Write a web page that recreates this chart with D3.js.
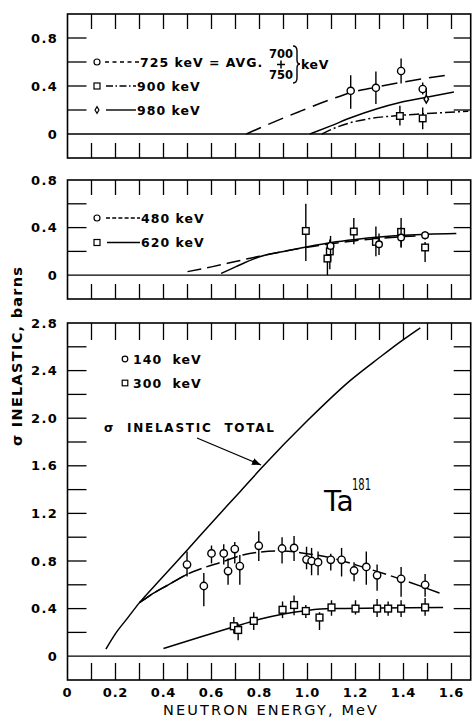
<!DOCTYPE html>
<html>
<head>
<meta charset="utf-8">
<script src="https://cdn.jsdelivr.net/npm/d3@7"></script>
<style>
  body { margin: 0; background: #fff; }
  svg { display: block; font-family: "DejaVu Sans", "Liberation Sans", sans-serif; }
</style>
</head>
<body>
<svg id="chart" width="472" height="718"></svg>
<script>
// Ta181 inelastic cross sections vs neutron energy

// shared x axis
const xTicks = [0.1, 0.2, 0.3, 0.4, 0.5, 0.6, 0.7, 0.8, 0.9, 1.0, 1.1, 1.2, 1.3, 1.4, 1.5, 1.6];
const xTickLabels = ["0", "0.2", "0.4", "0.6", "0.8", "1.0", "1.2", "1.4", "1.6"];
const xLabelValues = [0, 0.2, 0.4, 0.6, 0.8, 1.0, 1.2, 1.4, 1.6];

// top panel: [E, sigma, errLow, errHigh]
const pts725 = [[1.18, 0.36, 0.21, 0.49], [1.285, 0.385, 0.25, 0.52], [1.39, 0.525, 0.42, 0.63], [1.48, 0.375, 0.33, 0.43]];
const pts900 = [[1.385, 0.15, 0.07, 0.235], [1.48, 0.13, 0.04, 0.22]];
const pts980 = [[1.495, 0.29, 0.28, 0.38]];
const curve725 = [[0.745, 0], [0.83, 0.075], [0.97, 0.19], [1.1, 0.29], [1.18, 0.345], [1.285, 0.39], [1.39, 0.43], [1.48, 0.46], [1.58, 0.49]];
const curve900 = [[1.06, 0], [1.12, 0.055], [1.18, 0.095], [1.25, 0.125], [1.385, 0.155], [1.48, 0.168], [1.67, 0.19]];
const curve980 = [[1.01, 0], [1.1, 0.07], [1.18, 0.135], [1.29, 0.21], [1.385, 0.262], [1.48, 0.30], [1.61, 0.35]];

// middle panel
const pts480 = [[1.096, 0.246, 0.12, 0.33], [1.298, 0.26, 0.17, 0.35], [1.39, 0.317, 0.24, 0.40], [1.49, 0.336, 0.30, 0.37]];
const pts620 = [[0.993, 0.372, 0.12, 0.60], [1.083, 0.14, 0.0, 0.25], [1.093, 0.20, 0.05, 0.30], [1.193, 0.367, 0.26, 0.48],
                [1.285, 0.28, 0.16, 0.41], [1.39, 0.364, 0.23, 0.48], [1.49, 0.233, 0.11, 0.28]];
const curve480 = [[0.50, 0.03], [0.6, 0.07], [0.7, 0.115], [0.8, 0.16], [0.9, 0.2], [1.0, 0.235], [1.1, 0.265], [1.2, 0.29], [1.3, 0.31], [1.45, 0.33]];
const curve620 = [[0.64, 0.015], [0.7, 0.07], [0.8, 0.155], [0.9, 0.2], [1.0, 0.24], [1.1, 0.275], [1.2, 0.3], [1.3, 0.32], [1.4, 0.335], [1.5, 0.345], [1.62, 0.35]];

// bottom panel
const pts140 = [[0.498, 0.77, 0.67, 0.88], [0.568, 0.59, 0.42, 0.70], [0.60, 0.864, 0.78, 0.93], [0.651, 0.864, 0.77, 0.94],
                [0.669, 0.715, 0.60, 0.82], [0.697, 0.90, 0.78, 0.96], [0.718, 0.757, 0.60, 0.85], [0.797, 0.928, 0.80, 1.05],
                [0.894, 0.905, 0.78, 1.0], [0.944, 0.91, 0.80, 1.01], [0.996, 0.812, 0.73, 0.92], [1.017, 0.80, 0.68, 0.91],
                [1.044, 0.79, 0.68, 0.88], [1.097, 0.81, 0.72, 0.86], [1.142, 0.81, 0.67, 0.91], [1.194, 0.72, 0.63, 0.79],
                [1.245, 0.75, 0.60, 0.88], [1.29, 0.68, 0.55, 0.77], [1.39, 0.65, 0.50, 0.75], [1.49, 0.60, 0.50, 0.69]];
const pts300 = [[0.693, 0.252, 0.19, 0.33], [0.711, 0.22, 0.135, 0.275], [0.776, 0.297, 0.22, 0.37], [0.896, 0.39, 0.32, 0.46],
                [0.944, 0.43, 0.345, 0.51], [0.993, 0.38, 0.32, 0.43], [1.05, 0.325, 0.22, 0.37], [1.10, 0.41, 0.34, 0.47],
                [1.20, 0.40, 0.35, 0.47], [1.29, 0.40, 0.33, 0.48], [1.336, 0.40, 0.34, 0.46], [1.39, 0.40, 0.33, 0.47], [1.49, 0.41, 0.34, 0.49]];
const curveTotal = [[0.16, 0.06], [0.2, 0.19], [0.25, 0.32], [0.3, 0.45], [0.385, 0.64], [0.5, 0.895], [0.6, 1.12], [0.72, 1.385],
                    [0.81, 1.585], [1.0, 1.98], [1.18, 2.32], [1.30, 2.51], [1.385, 2.64], [1.47, 2.76]];
const curve140 = [[0.30, 0.45], [0.343, 0.51], [0.42, 0.60], [0.5, 0.69], [0.57, 0.745], [0.64, 0.79], [0.73, 0.85], [0.8, 0.875],
                  [0.9, 0.885], [0.97, 0.87], [1.1, 0.825], [1.245, 0.74], [1.385, 0.65], [1.55, 0.53]];
const curve300 = [[0.40, 0.065], [0.55, 0.16], [0.69, 0.245], [0.8, 0.31], [0.9, 0.355], [1.0, 0.385], [1.1, 0.40], [1.3, 0.405], [1.565, 0.41]];

// y ticks / labels per panel
const topYTicks = [0.2, 0.4, 0.6, 0.8];
const topYLabels = [0, 0.4, 0.8];
const midYTicks = [0.2, 0.4, 0.6];
const midYLabels = [0, 0.4, 0.8];
const botYTicks = [0.2, 0.4, 0.6, 0.8, 1.0, 1.2, 1.4, 1.6, 1.8, 2.0, 2.2, 2.4, 2.6];
const botYLabels = [0, 0.4, 0.8, 1.2, 1.6, 2.0, 2.4, 2.8];

const svg = d3.select("#chart");
const x = d3.scaleLinear().domain([0, 1.6]).range([67.5, 451.5]);
const xEnd = 1.68;

const panels = {
  top: { y: d3.scaleLinear().domain([-0.2, 1.0]).range([158, 14]), ticks: topYTicks, labels: topYLabels, tl: 15 },
  mid: { y: d3.scaleLinear().domain([-0.2, 0.8]).range([299, 180]), ticks: midYTicks, labels: midYLabels, tl: 15 },
  bot: { y: d3.scaleLinear().domain([-0.2, 2.8]).range([680, 323]), ticks: botYTicks, labels: botYLabels, tl: 17 }
};

const fmtY = d => d === 0 ? "0" : d3.format(".1f")(d);

function frame(p) {
  const g = svg.append("g").attr("stroke", "#000");
  const x0 = x(0), x1 = x(xEnd);
  const [yB, yT] = p.y.range();
  g.append("rect").attr("x", x0).attr("y", yT).attr("width", x1 - x0).attr("height", yB - yT)
    .attr("fill", "none").attr("stroke-width", 1.6);
  g.append("line").attr("x1", x0).attr("x2", x1).attr("y1", p.y(0)).attr("y2", p.y(0)).attr("stroke-width", 1.3);
  g.selectAll(".tt").data(xTicks).join("line")
    .attr("x1", d => x(d)).attr("x2", d => x(d)).attr("y1", yT).attr("y2", yT + p.tl).attr("stroke-width", 1.3);
  g.selectAll(".tb").data(xTicks).join("line")
    .attr("x1", d => x(d)).attr("x2", d => x(d)).attr("y1", yB).attr("y2", yB - p.tl).attr("stroke-width", 1.3);
  g.selectAll(".yl").data(p.ticks).join("line")
    .attr("x1", x0).attr("x2", x0 + 19).attr("y1", d => p.y(d)).attr("y2", d => p.y(d)).attr("stroke-width", 1.3);
  g.selectAll(".yr").data(p.ticks).join("line")
    .attr("x1", x1 - 17).attr("x2", x1).attr("y1", d => p.y(d)).attr("y2", d => p.y(d)).attr("stroke-width", 1.3);
  svg.append("g").selectAll("text").data(p.labels).join("text")
    .attr("x", 58).attr("y", d => p.y(d)).attr("dy", "0.36em")
    .attr("text-anchor", "end").attr("font-size", 13).attr("font-weight", "bold").attr("letter-spacing", 1.3)
    .text(fmtY);
}

function curve(p, data, dash, width) {
  svg.append("path").datum(data)
    .attr("d", d3.line().x(d => x(d[0])).y(d => p.y(d[1])).curve(d3.curveMonotoneX))
    .attr("fill", "none").attr("stroke", "#000").attr("stroke-width", width || 1.5)
    .attr("stroke-dasharray", dash || null);
}

function errbars(p, data) {
  svg.append("g").selectAll("line").data(data).join("line")
    .attr("x1", d => x(d[0])).attr("x2", d => x(d[0]))
    .attr("y1", d => p.y(d[2])).attr("y2", d => p.y(d[3]))
    .attr("stroke", "#000").attr("stroke-width", 1.4);
}

function marker(g, kind, cx, cy, s) {
  if (kind === "circle") {
    g.append("circle").attr("cx", cx).attr("cy", cy).attr("r", s);
  } else if (kind === "square") {
    g.append("rect").attr("x", cx - s).attr("y", cy - s).attr("width", 2 * s).attr("height", 2 * s);
  } else {
    g.append("path").attr("d", `M${cx},${cy - s * 1.3}L${cx + s * 0.75},${cy}L${cx},${cy + s * 1.3}L${cx - s * 0.75},${cy}Z`);
  }
}

function points(p, data, kind, s) {
  errbars(p, data);
  const g = svg.append("g").attr("fill", "#fff").attr("stroke", "#000").attr("stroke-width", 1.4);
  data.forEach(d => marker(g, kind, x(d[0]), p.y(d[1]), s));
}

function legendRow(lx, ly, kind, s, dash, l0, l1, label) {
  const g = svg.append("g").attr("fill", "#fff").attr("stroke", "#000").attr("stroke-width", 1.2);
  marker(g, kind, lx, ly, s);
  if (l1) {
    svg.append("line").attr("x1", l0).attr("x2", l1).attr("y1", ly).attr("y2", ly)
      .attr("stroke", "#000").attr("stroke-width", 1.4).attr("stroke-dasharray", dash);
  }
  svg.append("text").attr("x", l1 ? l1 + 1 : lx + 8).attr("y", ly).attr("dy", "0.36em")
    .attr("font-size", 12.5).attr("font-weight", "bold").attr("letter-spacing", 1)
    .attr("word-spacing", l1 ? 0 : 5).text(label);
}

// frames
Object.values(panels).forEach(frame);

// ---- top panel
const T = panels.top;
curve(T, curve725, "16,8");
curve(T, curve900, "10,3,2,3");
curve(T, curve980);
points(T, pts725, "circle", 3.6);
points(T, pts900, "square", 3.3);
points(T, pts980, "diamond", 3);

legendRow(97, T.y(0.6), "circle", 3, "4,3.5", 105, 139, "725 keV = AVG.");
legendRow(97, T.y(0.4), "square", 3, "7,2.5,1.5,2.5", 106, 136, "900 keV");
legendRow(97, T.y(0.2), "diamond", 2.6, null, 106, 136, "980 keV");
const frac = svg.append("g").attr("font-size", 11.5).attr("font-weight", "bold").attr("text-anchor", "middle");
frac.append("text").attr("x", 281).attr("y", 54).attr("dy", "0.36em").text("700");
frac.append("text").attr("x", 281).attr("y", 75).attr("dy", "0.36em").text("750");
svg.append("path").attr("d", "M277,64.5H285M281,60.5V68.5").attr("stroke", "#000").attr("stroke-width", 1.5);
svg.append("path").attr("d", "M293,46 Q297,46 297,51 L297,60 Q297,64 300,64 Q297,64 297,68 L297,78 Q297,83 293,83")
  .attr("fill", "none").attr("stroke", "#000").attr("stroke-width", 1.4);
svg.append("text").attr("x", 301).attr("y", 64).attr("dy", "0.36em")
  .attr("font-size", 12.5).attr("font-weight", "bold").attr("letter-spacing", 0.6).text("keV");

// ---- middle panel
const M = panels.mid;
curve(M, curve480, "14,6");
curve(M, curve620);
points(M, pts620, "square", 3.3);
points(M, pts480, "circle", 3.3);
legendRow(97, 218, "circle", 3, "4,2.2", 106, 140, "480 keV");
legendRow(97, 242.5, "square", 3, null, 107, 140, "620 keV");

// ---- bottom panel
const B = panels.bot;
curve(B, curveTotal);
curve(B, curve140, "14,5");
curve(B, curve140.filter(d => d[0] <= 0.5));
curve(B, curve300);
points(B, pts140, "circle", 3.7);
points(B, pts300, "square", 3.4);
legendRow(125, 359, "circle", 2.8, null, null, null, "140 keV");
legendRow(125, 383, "square", 2.8, null, null, null, "300 keV");

// annotation
svg.append("defs").append("marker").attr("id", "ah").attr("viewBox", "0 0 10 10")
  .attr("refX", 10).attr("refY", 5).attr("markerWidth", 9).attr("markerHeight", 9)
  .attr("orient", "auto").attr("markerUnits", "userSpaceOnUse")
  .append("path").attr("d", "M0,1L10,5L0,9Z").attr("fill", "#000");
svg.append("line").attr("x1", 197).attr("y1", 438).attr("x2", 261).attr("y2", 465)
  .attr("stroke", "#000").attr("stroke-width", 1.3).attr("marker-end", "url(#ah)");
svg.append("text").attr("x", 104).attr("y", 432).attr("font-size", 12).attr("font-weight", "bold")
  .attr("word-spacing", 6).attr("textLength", 170).attr("lengthAdjust", "spacing").text("\u03c3 INELASTIC TOTAL");

const ta = svg.append("text").attr("x", 324).attr("y", 511).attr("font-size", 28);
ta.append("tspan").text("Ta");
ta.append("tspan").attr("x", 352).attr("y", 490).attr("font-size", 16)
  .attr("textLength", 19).attr("lengthAdjust", "spacingAndGlyphs").text("181");

// x tick labels
svg.append("g").selectAll("text").data(xLabelValues).join("text")
  .attr("x", d => x(d)).attr("y", 697).attr("text-anchor", "middle")
  .attr("font-size", 13).attr("font-weight", "bold").attr("letter-spacing", 0.8)
  .text((d, i) => xTickLabels[i]);

// axis titles
svg.append("text").attr("x", 163).attr("y", 714.5).attr("font-size", 14.5)
  .attr("textLength", 214).attr("lengthAdjust", "spacing").text("NEUTRON ENERGY, MeV");
svg.append("text").attr("transform", "translate(22,446) rotate(-90)").attr("font-size", 14.5).attr("font-weight", "bold")
  .attr("textLength", 179).attr("lengthAdjust", "spacing").text("\u03c3 INELASTIC, barns");
</script>
</body>
</html>
